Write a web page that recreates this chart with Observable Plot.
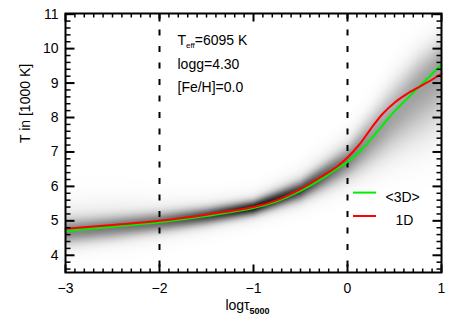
<!DOCTYPE html>
<html><head><meta charset="utf-8">
<script src="https://cdn.jsdelivr.net/npm/d3@7"></script>
<script src="https://cdn.jsdelivr.net/npm/@observablehq/plot@0.6"></script>
<style>
body{margin:0;background:#fff;}
svg{font-family:"Liberation Sans",Arial,Helvetica,sans-serif;}
</style>
</head><body><div id="chart"></div>
<script>
// ---- mean temperature structures (T in 1000 K) ----
const logTau = [-3, -2.5, -2, -1.5, -1, -0.75, -0.5, -0.25, -0.125, 0, 0.125, 0.25, 0.375, 0.5, 0.625, 0.75, 0.875, 1];
const temp3D = [4.70, 4.83, 4.96, 5.14, 5.37, 5.57, 5.87, 6.26, 6.49, 6.71, 7.00, 7.37, 7.78, 8.18, 8.52, 8.86, 9.20, 9.53];
const temp1D = [4.77, 4.88, 5.00, 5.18, 5.40, 5.60, 5.92, 6.33, 6.55, 6.84, 7.21, 7.68, 8.11, 8.43, 8.67, 8.87, 9.06, 9.27];

// ---- 3D temperature distribution (read from the grey shading) ----
const gridTau   = [-3,   -2.5, -2,   -1.5, -1,   -0.5, 0,    0.25, 0.5,  0.75, 1];
const densPeak  = [4.68, 4.82, 4.95, 5.14, 5.38, 5.88, 6.75, 7.40, 8.10, 8.85, 9.50];
const coreLo    = [4.45, 4.60, 4.77, 4.98, 5.24, 5.70, 6.45, 6.95, 7.50, 8.00, 8.50];
const coreHi    = [4.92, 5.03, 5.14, 5.30, 5.52, 6.06, 7.00, 7.80, 8.60, 9.40, 10.00];
const haloLo    = [3.75, 3.90, 4.10, 4.40, 4.70, 5.10, 5.60, 5.90, 6.20, 6.50, 6.80];
const haloHi    = [6.10, 6.10, 6.00, 5.95, 6.10, 6.80, 7.90, 8.70, 9.70, 10.40, 10.85];
const coreShade = [0.38, 0.42, 0.48, 0.62, 0.80, 0.62, 0.34, 0.22, 0.16, 0.15, 0.14];
const haloShade = [0.10, 0.10, 0.10, 0.11, 0.12, 0.14, 0.16, 0.18, 0.20, 0.22, 0.24];

// ---- axes ----
const xMajor = [-3, -2, -1, 0, 1];
const yMajor = [4, 5, 6, 7, 8, 9, 10, 11];
const xMinor = d3.range(-30, 11).filter(i => i % 10 !== 0).map(i => i / 10);
const yMinor = d3.range(18, 56).filter(i => i % 5 !== 0).map(i => i / 5);
const dashedAt = [-2, 0];
const xDomain = [-3, 1], yDomain = [3.5, 11.02];

// ---- labels ----
const labelTeff = "Teff=6095 K";
const labelLogg = "logg=4.30";
const labelFeH = "[Fe/H]=0.0";
const labelY = "T in [1000 K]";
const labelX = "logτ5000";
const legendNames = ["<3D>", "1D"];
const legendY = [5.82, 5.14];

const W = 463, H = 328, mL = 65, mR = 22, mT = 13, mB = 56;
const pw = W - mL - mR, ph = H - mT - mB;
const xpp = (xDomain[1] - xDomain[0]) / pw;   // data units per pixel
const ypp = (yDomain[1] - yDomain[0]) / ph;

const lineData = logTau.map((t, i) => ({t, t3: temp3D[i], t1: temp1D[i]}));
const interp = arr => d3.scaleLinear().domain(gridTau).range(arr).clamp(true);
const fPeak = interp(densPeak), fCL = interp(coreLo), fCH = interp(coreHi),
      fHL = interp(haloLo), fHH = interp(haloHi), fCS = interp(coreShade), fHS = interp(haloShade);
function density(x, y) {
  const c = fPeak(x), d = y - c;
  const s1 = d > 0 ? fCH(x) - c : c - fCL(x);
  const s3 = (d > 0 ? fHH(x) - c : c - fHL(x)) / 2.5;
  return fCS(x) * Math.exp(-0.5 * (d / s1) ** 2) + fHS(x) * Math.exp(-0.5 * (d / s3) ** 2);
}

// tick marks (inward, on all four sides): length in pixels
const xTickData = [...xMajor.map(v => ({v, len: 8, w: 2})), ...xMinor.map(v => ({v, len: 4, w: 1.5}))];
const yTickData = [...yMajor.map(v => ({v, len: 9, w: 2})), ...yMinor.map(v => ({v, len: 5, w: 1.5}))];

const plot = Plot.plot({
  width: W, height: H,
  marginLeft: mL, marginRight: mR, marginTop: mT, marginBottom: mB,
  x: {domain: xDomain},
  y: {domain: yDomain},
  color: {type: "linear", domain: [0, 1], range: ["#ffffff", "#000000"], clamp: true},
  style: {fontFamily: "Liberation Sans, Arial, Helvetica, sans-serif", fontSize: "14px", background: "white", color: "black"},
  marks: [
    Plot.raster({x1: xDomain[0], x2: xDomain[1], y1: yDomain[0], y2: yDomain[1], fill: density, pixelSize: 1}),
    Plot.ruleX(dashedAt, {x: d => d, stroke: "black", strokeWidth: 2, strokeDasharray: "6,10.5"}),
    Plot.line(lineData, {x: "t", y: "t3", stroke: "#00ee00", strokeWidth: 2, curve: "catmull-rom"}),
    Plot.line(lineData, {x: "t", y: "t1", stroke: "#ff0000", strokeWidth: 2, curve: "catmull-rom"}),
    Plot.frame({stroke: "black", strokeWidth: 2}),
    Plot.link(xTickData, {x1: "v", x2: "v", y1: () => yDomain[0], y2: d => yDomain[0] + d.len * ypp, stroke: "black", strokeWidth: "w"}),
    Plot.link(xTickData, {x1: "v", x2: "v", y1: () => yDomain[1], y2: d => yDomain[1] - d.len * ypp, stroke: "black", strokeWidth: "w"}),
    Plot.link(yTickData, {y1: "v", y2: "v", x1: () => xDomain[0], x2: d => xDomain[0] + d.len * xpp, stroke: "black", strokeWidth: "w"}),
    Plot.link(yTickData, {y1: "v", y2: "v", x1: () => xDomain[1], x2: d => xDomain[1] - d.len * xpp, stroke: "black", strokeWidth: "w"}),
    Plot.axisX(xMajor, {tickSize: 0, tickPadding: 11, label: null, fontSize: 14}),
    Plot.axisY(yMajor, {tickSize: 0, tickPadding: 7, label: null, fontSize: 14}),
    Plot.text([labelY], {text: d => d, frameAnchor: "left", rotate: -90, dx: -40, fontSize: 14}),
    Plot.text([labelX], {text: d => d, frameAnchor: "bottom", dy: 37, dx: -6, fontSize: 14}),
    Plot.text([labelTeff], {text: d => d, frameAnchor: "top-left", dx: 112, dy: 22, textAnchor: "start", fontSize: 14}),
    Plot.text([labelLogg], {text: d => d, frameAnchor: "top-left", dx: 112, dy: 46, textAnchor: "start", fontSize: 14}),
    Plot.text([labelFeH], {text: d => d, frameAnchor: "top-left", dx: 112, dy: 69, textAnchor: "start", fontSize: 14}),
    Plot.tickY([legendY[0]], {y: d => d, insetLeft: 288, insetRight: 65, stroke: "#00ee00", strokeWidth: 2}),
    Plot.tickY([legendY[1]], {y: d => d, insetLeft: 288, insetRight: 65, stroke: "#ff0000", strokeWidth: 2}),
    Plot.text([legendNames[0]], {text: d => d, frameAnchor: "top-left", dx: 320, dy: 179, textAnchor: "start", fontSize: 14}),
    Plot.text([legendNames[1]], {text: d => d, frameAnchor: "top-left", dx: 330, dy: 202, textAnchor: "start", fontSize: 14})
  ]
});
document.getElementById("chart").appendChild(plot);

// subscripts
d3.select(plot).selectAll("text").each(function () {
  const s = this.textContent;
  if (s === labelTeff) {
    const t = d3.select(this); t.text("");
    t.append("tspan").text("T");
    t.append("tspan").attr("font-size", 8).attr("dy", 3).text("eff");
    t.append("tspan").attr("dy", -3).text("=6095 K");
  } else if (s === labelX) {
    const t = d3.select(this); t.text("");
    t.append("tspan").text("logτ");
    t.append("tspan").attr("font-size", 9).attr("font-weight", "bold").attr("dy", 4).text("5000");
  }
});
</script>
</body></html>
